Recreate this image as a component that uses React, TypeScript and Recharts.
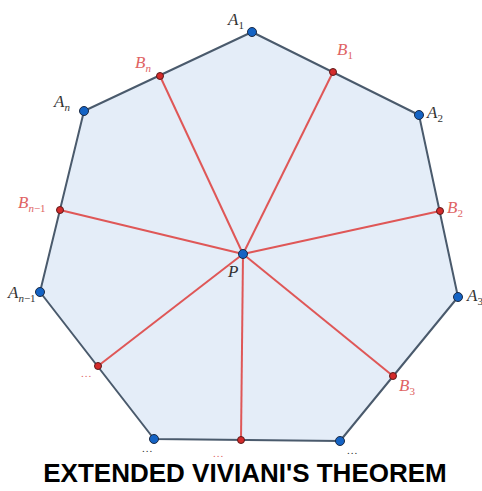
import { ScatterChart, Scatter, XAxis, YAxis, Polygon } from "recharts";

// polygon vertices A1, A2, A3, ..., An-1, An (clockwise, pixel-like units, y down)
const vertexX = [252, 419, 458, 340, 154, 40, 84];
const vertexY = [32, 115, 297, 441, 439, 292, 111];
const vertexMain = ["A", "A", "A", "...", "...", "A", "A"];
const vertexSub = ["1", "2", "3", "", "", "n−1", "n"];

// feet of the perpendiculars B1, B2, B3, ..., Bn-1, Bn
const footX = [333, 440, 393, 241, 98, 60, 160];
const footY = [72, 211, 376, 440, 366, 210, 76];
const footMain = ["B", "B", "B", "...", "...", "B", "B"];
const footSub = ["1", "2", "3", "", "", "n−1", "n"];

// interior point P
const pointX = [243];
const pointY = [254];

// label placement relative to each point
const vertexLabelOffset = [[-24, -7], [8, 3], [9, 4], [7, 13], [-12, 13], [-32, 6], [-30, -4]];
const footLabelOffset = [[4, -17], [7, 2], [6, 15], [-28, 17], [-17, 11], [-42, -2], [-25, -8]];
const pointLabelOffset = [[-15, 23]];

const W = 482;
const H = 491;
const FILL = "#e4edf8";
const EDGE = "#4a5a6c";
const RED = "#df5757";
const RED_LABEL = "#e06464";
const BLUE = "#1463c4";

const build = (xs: number[], ys: number[], main: string[], sub: string[], off: number[][]) =>
  xs.map((x, i) => ({ x, y: ys[i], main: main[i], sub: sub[i], dx: off[i][0], dy: off[i][1] }));

const vertices = build(vertexX, vertexY, vertexMain, vertexSub, vertexLabelOffset);
const feet = build(footX, footY, footMain, footSub, footLabelOffset);
const point = build(pointX, pointY, ["P"], [""], pointLabelOffset);

const PolygonLine = (props: any) => (
  <Polygon points={props.points} fill={FILL} stroke={EDGE} strokeWidth={2} strokeLinejoin="round" />
);

const Empty = () => <g />;

// subscript: letters italic, digits and minus upright
const subParts = (sub: string) => sub.match(/[a-z]+|[^a-z]+/g) || [];

const makeDot = (r: number, fill: string, stroke: string, color: string) => (props: any) => {
  const { cx, cy, payload } = props;
  const dots = payload.main === "...";
  return (
    <g>
      <circle cx={cx} cy={cy} r={r} fill={fill} stroke={stroke} strokeWidth={1} />
      <text
        x={cx + payload.dx}
        y={cy + payload.dy}
        fill={color}
        fontFamily="'Liberation Serif', serif"
        fontStyle={dots ? "normal" : "italic"}
        fontSize={dots ? 11 : 17}
        letterSpacing={dots ? 1 : 0}
      >
        {payload.main}
        {subParts(payload.sub).map((part, j) => (
          <tspan
            key={j}
            fontSize={11}
            dy={j === 0 ? 4 : 0}
            fontStyle={/[a-z]/.test(part) ? "italic" : "normal"}
          >
            {part}
          </tspan>
        ))}
      </text>
    </g>
  );
};

export default function App() {
  return (
    <div style={{ position: "absolute", left: 0, top: 0, width: W, height: H, background: "#fff" }}>
      <ScatterChart width={W} height={H} margin={{ top: 0, right: 0, bottom: 0, left: 0 }}>
        <XAxis type="number" dataKey="x" domain={[0, W]} hide />
        <YAxis type="number" dataKey="y" domain={[0, H]} reversed hide />
        <Scatter data={vertices} line={<PolygonLine />} shape={<Empty />} isAnimationActive={false} />
        {feet.map((f, i) => (
          <Scatter
            key={i}
            data={[point[0], f]}
            line={{ stroke: RED, strokeWidth: 2 }}
            shape={<Empty />}
            isAnimationActive={false}
          />
        ))}
        <Scatter data={feet} shape={makeDot(3.5, "#d42a2a", "#5c1b1b", RED_LABEL)} isAnimationActive={false} />
        <Scatter data={vertices} shape={makeDot(4.5, BLUE, "#1b2a44", "#333")} isAnimationActive={false} />
        <Scatter data={point} shape={makeDot(4.5, BLUE, "#1b2a44", "#333")} isAnimationActive={false} />
      </ScatterChart>
      <div
        style={{
          position: "absolute",
          left: 0,
          top: 458,
          width: 490,
          height: 32,
          textAlign: "center",
          fontFamily: "'Liberation Sans', Arial, sans-serif",
          fontWeight: "bold",
          fontSize: 26,
          lineHeight: "30px",
          color: "#000",
          whiteSpace: "nowrap",
        }}
      >
        EXTENDED VIVIANI'S THEOREM
      </div>
    </div>
  );
}
